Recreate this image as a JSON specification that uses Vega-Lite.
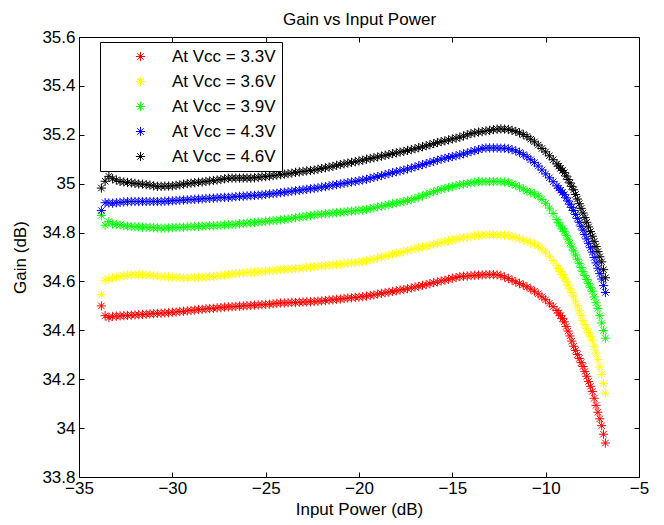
{
"$schema": "https://vega.github.io/schema/vega-lite/v6.json",
"width": 560, "height": 440,
"autosize": "none",
"padding": {"left": 79, "top": 37, "right": 25, "bottom": 48},
"background": "white",
"config": {
  "view": {"stroke": "black", "strokeWidth": 1},
  "axis": {"grid": false, "domainColor": "black", "tickColor": "black", "labelColor": "black", "titleColor": "black", "labelFont": "Liberation Sans", "titleFont": "Liberation Sans", "labelFontSize": 17, "titleFontSize": 17, "titleFontWeight": "normal", "tickSize": -5, "labelFlush": false, "labelOverlap": false}
},
"resolve": {"axis": {"x": "independent", "y": "independent"}},
"layer": [
{
"data": {"values": [
{"x":-33.8,"a":34.500,"b":34.546,"c":34.870,"d":34.890,"e":34.982},
{"x":-33.6,"a":34.460,"b":34.605,"c":34.830,"d":34.922,"e":35.010},
{"x":-33.4,"a":34.452,"b":34.610,"c":34.845,"d":34.921,"e":35.030},
{"x":-33.2,"a":34.457,"b":34.614,"c":34.835,"d":34.920,"e":35.020},
{"x":-33.0,"a":34.458,"b":34.617,"c":34.833,"d":34.922,"e":35.015},
{"x":-32.8,"a":34.459,"b":34.620,"c":34.831,"d":34.923,"e":35.009},
{"x":-32.6,"a":34.460,"b":34.623,"c":34.828,"d":34.925,"e":35.007},
{"x":-32.4,"a":34.461,"b":34.626,"c":34.826,"d":34.926,"e":35.005},
{"x":-32.2,"a":34.462,"b":34.627,"c":34.825,"d":34.927,"e":35.003},
{"x":-32.0,"a":34.463,"b":34.627,"c":34.824,"d":34.927,"e":35.001},
{"x":-31.8,"a":34.464,"b":34.627,"c":34.823,"d":34.927,"e":34.999},
{"x":-31.6,"a":34.465,"b":34.627,"c":34.822,"d":34.927,"e":34.998},
{"x":-31.4,"a":34.466,"b":34.627,"c":34.822,"d":34.927,"e":34.996},
{"x":-31.2,"a":34.467,"b":34.625,"c":34.821,"d":34.927,"e":34.994},
{"x":-31.0,"a":34.468,"b":34.623,"c":34.820,"d":34.927,"e":34.991},
{"x":-30.8,"a":34.469,"b":34.622,"c":34.819,"d":34.927,"e":34.989},
{"x":-30.6,"a":34.470,"b":34.620,"c":34.818,"d":34.927,"e":34.989},
{"x":-30.4,"a":34.471,"b":34.620,"c":34.818,"d":34.928,"e":34.990},
{"x":-30.2,"a":34.472,"b":34.619,"c":34.819,"d":34.929,"e":34.990},
{"x":-30.0,"a":34.474,"b":34.618,"c":34.820,"d":34.930,"e":34.991},
{"x":-29.8,"a":34.475,"b":34.617,"c":34.821,"d":34.931,"e":34.993},
{"x":-29.6,"a":34.477,"b":34.616,"c":34.821,"d":34.932,"e":34.995},
{"x":-29.4,"a":34.478,"b":34.615,"c":34.822,"d":34.933,"e":34.998},
{"x":-29.2,"a":34.480,"b":34.614,"c":34.823,"d":34.934,"e":35.000},
{"x":-29.0,"a":34.481,"b":34.615,"c":34.824,"d":34.935,"e":35.002},
{"x":-28.8,"a":34.483,"b":34.616,"c":34.825,"d":34.936,"e":35.004},
{"x":-28.6,"a":34.485,"b":34.617,"c":34.825,"d":34.937,"e":35.006},
{"x":-28.4,"a":34.486,"b":34.617,"c":34.826,"d":34.938,"e":35.007},
{"x":-28.2,"a":34.488,"b":34.618,"c":34.827,"d":34.939,"e":35.009},
{"x":-28.0,"a":34.489,"b":34.619,"c":34.828,"d":34.940,"e":35.011},
{"x":-27.8,"a":34.490,"b":34.620,"c":34.828,"d":34.941,"e":35.013},
{"x":-27.6,"a":34.492,"b":34.622,"c":34.829,"d":34.942,"e":35.015},
{"x":-27.4,"a":34.493,"b":34.624,"c":34.830,"d":34.943,"e":35.017},
{"x":-27.2,"a":34.495,"b":34.626,"c":34.831,"d":34.944,"e":35.020},
{"x":-27.0,"a":34.496,"b":34.628,"c":34.832,"d":34.944,"e":35.022},
{"x":-26.8,"a":34.497,"b":34.630,"c":34.833,"d":34.945,"e":35.023},
{"x":-26.6,"a":34.498,"b":34.632,"c":34.834,"d":34.947,"e":35.023},
{"x":-26.4,"a":34.499,"b":34.634,"c":34.836,"d":34.948,"e":35.023},
{"x":-26.2,"a":34.500,"b":34.635,"c":34.837,"d":34.949,"e":35.023},
{"x":-26.0,"a":34.501,"b":34.636,"c":34.839,"d":34.950,"e":35.023},
{"x":-25.8,"a":34.502,"b":34.637,"c":34.840,"d":34.951,"e":35.023},
{"x":-25.6,"a":34.503,"b":34.638,"c":34.841,"d":34.952,"e":35.024},
{"x":-25.4,"a":34.504,"b":34.639,"c":34.843,"d":34.953,"e":35.026},
{"x":-25.2,"a":34.505,"b":34.640,"c":34.844,"d":34.954,"e":35.028},
{"x":-25.0,"a":34.506,"b":34.642,"c":34.846,"d":34.956,"e":35.029},
{"x":-24.8,"a":34.507,"b":34.643,"c":34.847,"d":34.958,"e":35.031},
{"x":-24.6,"a":34.509,"b":34.645,"c":34.849,"d":34.959,"e":35.033},
{"x":-24.4,"a":34.510,"b":34.646,"c":34.850,"d":34.961,"e":35.035},
{"x":-24.2,"a":34.512,"b":34.648,"c":34.852,"d":34.963,"e":35.037},
{"x":-24.0,"a":34.512,"b":34.649,"c":34.854,"d":34.965,"e":35.039},
{"x":-23.8,"a":34.513,"b":34.650,"c":34.856,"d":34.967,"e":35.041},
{"x":-23.6,"a":34.514,"b":34.651,"c":34.858,"d":34.969,"e":35.043},
{"x":-23.4,"a":34.514,"b":34.653,"c":34.861,"d":34.971,"e":35.046},
{"x":-23.2,"a":34.515,"b":34.654,"c":34.863,"d":34.973,"e":35.048},
{"x":-23.0,"a":34.516,"b":34.655,"c":34.865,"d":34.975,"e":35.050},
{"x":-22.8,"a":34.516,"b":34.657,"c":34.867,"d":34.977,"e":35.052},
{"x":-22.6,"a":34.517,"b":34.658,"c":34.869,"d":34.979,"e":35.054},
{"x":-22.4,"a":34.518,"b":34.660,"c":34.872,"d":34.981,"e":35.056},
{"x":-22.2,"a":34.519,"b":34.662,"c":34.874,"d":34.983,"e":35.059},
{"x":-22.0,"a":34.520,"b":34.663,"c":34.875,"d":34.986,"e":35.062},
{"x":-21.8,"a":34.522,"b":34.665,"c":34.877,"d":34.988,"e":35.065},
{"x":-21.6,"a":34.524,"b":34.666,"c":34.878,"d":34.991,"e":35.068},
{"x":-21.4,"a":34.525,"b":34.668,"c":34.880,"d":34.994,"e":35.071},
{"x":-21.2,"a":34.527,"b":34.669,"c":34.881,"d":34.996,"e":35.075},
{"x":-21.0,"a":34.528,"b":34.671,"c":34.883,"d":34.999,"e":35.078},
{"x":-20.8,"a":34.530,"b":34.673,"c":34.884,"d":35.001,"e":35.081},
{"x":-20.6,"a":34.532,"b":34.674,"c":34.886,"d":35.004,"e":35.084},
{"x":-20.4,"a":34.533,"b":34.676,"c":34.888,"d":35.007,"e":35.087},
{"x":-20.2,"a":34.535,"b":34.677,"c":34.889,"d":35.009,"e":35.090},
{"x":-20.0,"a":34.536,"b":34.679,"c":34.891,"d":35.012,"e":35.093},
{"x":-19.8,"a":34.538,"b":34.681,"c":34.892,"d":35.015,"e":35.096},
{"x":-19.6,"a":34.540,"b":34.684,"c":34.895,"d":35.018,"e":35.100},
{"x":-19.4,"a":34.543,"b":34.688,"c":34.898,"d":35.022,"e":35.103},
{"x":-19.2,"a":34.545,"b":34.692,"c":34.901,"d":35.026,"e":35.106},
{"x":-19.0,"a":34.548,"b":34.695,"c":34.905,"d":35.029,"e":35.109},
{"x":-18.8,"a":34.551,"b":34.699,"c":34.908,"d":35.033,"e":35.113},
{"x":-18.6,"a":34.554,"b":34.703,"c":34.911,"d":35.037,"e":35.116},
{"x":-18.4,"a":34.556,"b":34.707,"c":34.914,"d":35.041,"e":35.119},
{"x":-18.2,"a":34.559,"b":34.711,"c":34.918,"d":35.045,"e":35.123},
{"x":-18.0,"a":34.562,"b":34.715,"c":34.921,"d":35.049,"e":35.126},
{"x":-17.8,"a":34.565,"b":34.718,"c":34.924,"d":35.052,"e":35.129},
{"x":-17.6,"a":34.567,"b":34.722,"c":34.927,"d":35.056,"e":35.132},
{"x":-17.4,"a":34.570,"b":34.726,"c":34.931,"d":35.060,"e":35.136},
{"x":-17.2,"a":34.573,"b":34.730,"c":34.934,"d":35.064,"e":35.139},
{"x":-17.0,"a":34.577,"b":34.734,"c":34.939,"d":35.069,"e":35.143},
{"x":-16.8,"a":34.580,"b":34.737,"c":34.945,"d":35.073,"e":35.147},
{"x":-16.6,"a":34.584,"b":34.741,"c":34.950,"d":35.078,"e":35.151},
{"x":-16.4,"a":34.587,"b":34.744,"c":34.956,"d":35.082,"e":35.155},
{"x":-16.2,"a":34.591,"b":34.748,"c":34.961,"d":35.087,"e":35.159},
{"x":-16.0,"a":34.595,"b":34.752,"c":34.967,"d":35.091,"e":35.164},
{"x":-15.8,"a":34.598,"b":34.755,"c":34.972,"d":35.096,"e":35.168},
{"x":-15.6,"a":34.602,"b":34.759,"c":34.977,"d":35.100,"e":35.172},
{"x":-15.4,"a":34.605,"b":34.762,"c":34.981,"d":35.104,"e":35.175},
{"x":-15.2,"a":34.609,"b":34.766,"c":34.985,"d":35.107,"e":35.179},
{"x":-15.0,"a":34.613,"b":34.770,"c":34.988,"d":35.111,"e":35.183},
{"x":-14.8,"a":34.616,"b":34.773,"c":34.992,"d":35.114,"e":35.186},
{"x":-14.6,"a":34.620,"b":34.777,"c":34.996,"d":35.118,"e":35.190},
{"x":-14.4,"a":34.621,"b":34.779,"c":34.998,"d":35.122,"e":35.195},
{"x":-14.2,"a":34.622,"b":34.781,"c":35.001,"d":35.126,"e":35.200},
{"x":-14.0,"a":34.624,"b":34.784,"c":35.003,"d":35.131,"e":35.205},
{"x":-13.8,"a":34.625,"b":34.786,"c":35.006,"d":35.135,"e":35.208},
{"x":-13.6,"a":34.626,"b":34.788,"c":35.008,"d":35.139,"e":35.211},
{"x":-13.4,"a":34.627,"b":34.790,"c":35.008,"d":35.144,"e":35.213},
{"x":-13.2,"a":34.628,"b":34.791,"c":35.008,"d":35.146,"e":35.216},
{"x":-13.0,"a":34.628,"b":34.791,"c":35.009,"d":35.146,"e":35.218},
{"x":-12.8,"a":34.628,"b":34.791,"c":35.009,"d":35.146,"e":35.221},
{"x":-12.6,"a":34.627,"b":34.790,"c":35.009,"d":35.146,"e":35.223},
{"x":-12.4,"a":34.624,"b":34.790,"c":35.008,"d":35.145,"e":35.224},
{"x":-12.2,"a":34.618,"b":34.789,"c":35.007,"d":35.145,"e":35.223},
{"x":-12.0,"a":34.612,"b":34.787,"c":35.005,"d":35.143,"e":35.222},
{"x":-11.8,"a":34.605,"b":34.783,"c":34.999,"d":35.139,"e":35.218},
{"x":-11.6,"a":34.598,"b":34.780,"c":34.993,"d":35.134,"e":35.214},
{"x":-11.4,"a":34.592,"b":34.775,"c":34.986,"d":35.128,"e":35.208},
{"x":-11.2,"a":34.585,"b":34.770,"c":34.978,"d":35.119,"e":35.201},
{"x":-11.0,"a":34.578,"b":34.765,"c":34.970,"d":35.110,"e":35.193},
{"x":-10.8,"a":34.569,"b":34.759,"c":34.964,"d":35.098,"e":35.182},
{"x":-10.6,"a":34.560,"b":34.753,"c":34.958,"d":35.086,"e":35.171},
{"x":-10.4,"a":34.549,"b":34.745,"c":34.950,"d":35.072,"e":35.158},
{"x":-10.2,"a":34.537,"b":34.733,"c":34.936,"d":35.056,"e":35.144},
{"x":-10.0,"a":34.525,"b":34.720,"c":34.920,"d":35.040,"e":35.130},
{"x":-9.8,"a":34.511,"b":34.703,"c":34.900,"d":35.024,"e":35.114},
{"x":-9.6,"a":34.497,"b":34.685,"c":34.878,"d":35.008,"e":35.098},
{"x":-9.4,"a":34.481,"b":34.664,"c":34.853,"d":34.991,"e":35.081},
{"x":-9.3,"a":34.471,"b":34.653,"c":34.840,"d":34.982,"e":35.072},
{"x":-9.2,"a":34.460,"b":34.641,"c":34.827,"d":34.973,"e":35.063},
{"x":-9.1,"a":34.448,"b":34.628,"c":34.815,"d":34.964,"e":35.054},
{"x":-9.0,"a":34.435,"b":34.615,"c":34.805,"d":34.955,"e":35.045},
{"x":-8.9,"a":34.416,"b":34.600,"c":34.789,"d":34.942,"e":35.031},
{"x":-8.8,"a":34.397,"b":34.585,"c":34.773,"d":34.929,"e":35.017},
{"x":-8.7,"a":34.377,"b":34.570,"c":34.757,"d":34.916,"e":35.003},
{"x":-8.6,"a":34.356,"b":34.555,"c":34.741,"d":34.903,"e":34.989},
{"x":-8.5,"a":34.335,"b":34.540,"c":34.725,"d":34.890,"e":34.975},
{"x":-8.4,"a":34.318,"b":34.520,"c":34.708,"d":34.874,"e":34.956},
{"x":-8.3,"a":34.301,"b":34.500,"c":34.691,"d":34.858,"e":34.937},
{"x":-8.2,"a":34.285,"b":34.480,"c":34.674,"d":34.842,"e":34.918},
{"x":-8.1,"a":34.268,"b":34.460,"c":34.657,"d":34.826,"e":34.899},
{"x":-8.0,"a":34.252,"b":34.440,"c":34.640,"d":34.810,"e":34.880},
{"x":-7.9,"a":34.232,"b":34.424,"c":34.624,"d":34.792,"e":34.861},
{"x":-7.8,"a":34.212,"b":34.408,"c":34.608,"d":34.774,"e":34.842},
{"x":-7.7,"a":34.191,"b":34.392,"c":34.592,"d":34.756,"e":34.823},
{"x":-7.6,"a":34.171,"b":34.376,"c":34.576,"d":34.738,"e":34.804},
{"x":-7.5,"a":34.150,"b":34.360,"c":34.560,"d":34.720,"e":34.785},
{"x":-7.4,"a":34.122,"b":34.333,"c":34.537,"d":34.698,"e":34.764},
{"x":-7.3,"a":34.093,"b":34.307,"c":34.513,"d":34.676,"e":34.743},
{"x":-7.2,"a":34.065,"b":34.280,"c":34.490,"d":34.654,"e":34.722},
{"x":-7.1,"a":34.038,"b":34.250,"c":34.460,"d":34.632,"e":34.701},
{"x":-7.0,"a":34.010,"b":34.220,"c":34.430,"d":34.610,"e":34.680},
{"x":-6.9,"a":33.975,"b":34.182,"c":34.399,"d":34.583,"e":34.648},
{"x":-6.8,"a":33.939,"b":34.143,"c":34.368,"d":34.555,"e":34.615}
]},
"transform": [{"fold": ["a","b","c","d","e"], "as": ["vcc","gain"]}],
"mark": {"type": "point", "shape": "M-1,0L1,0M0,-1L0,1M-0.7,-0.7L0.7,0.7M-0.7,0.7L0.7,-0.7", "filled": false, "size": 85, "strokeWidth": 1, "opacity": 1},
"encoding": {
  "x": {"field": "x", "type": "quantitative", "scale": {"domain": [-35, -5], "nice": false, "zero": false},
        "axis": {"title": "Input Power (dB)", "values": [-35,-30,-25,-20,-15,-10,-5], "labelPadding": 8, "titlePadding": 5}},
  "y": {"field": "gain", "type": "quantitative", "scale": {"domain": [33.8, 35.6], "nice": false, "zero": false},
        "axis": {"title": "Gain (dB)", "values": [33.8,34,34.2,34.4,34.6,34.8,35,35.2,35.4,35.6], "format": ".1~f", "labelPadding": 9, "titlePadding": 12}},
  "color": {"field": "vcc", "type": "nominal",
    "scale": {"domain": ["a","b","c","d","e"], "range": ["#ff0000","#ffff00","#00ff00","#0000ff","#000000"]},
    "legend": {"title": null, "orient": "none", "legendX": 21, "legendY": 5, "strokeColor": "black", "fillColor": "white", "padding": 6,
      "labelFont": "Liberation Sans", "labelFontSize": 17, "labelColor": "black",
      "symbolType": "M-1,0L1,0M0,-1L0,1M-0.7,-0.7L0.7,0.7M-0.7,0.7L0.7,-0.7", "symbolSize": 85, "symbolStrokeWidth": 1, "symbolFillColor": "transparent",
      "symbolOffset": 26, "labelOffset": 23, "rowPadding": 7,
      "labelExpr": "datum.value == 'a' ? 'At Vcc = 3.3V' : datum.value == 'b' ? 'At Vcc = 3.6V' : datum.value == 'c' ? 'At Vcc = 3.9V' : datum.value == 'd' ? 'At Vcc = 4.3V' : 'At Vcc = 4.6V'"}}
}
},
{
"data": {"values": [{"px": -35, "py": 33.8}]},
"mark": {"type": "point", "opacity": 0},
"encoding": {
  "x": {"field": "px", "type": "quantitative", "scale": {"domain": [-35, -5], "nice": false, "zero": false},
        "axis": {"orient": "top", "labels": false, "title": "Gain vs Input Power", "titlePadding": 9, "domain": false, "minExtent": 0, "maxExtent": 0, "values": [-35,-30,-25,-20,-15,-10,-5]}},
  "y": {"field": "py", "type": "quantitative", "scale": {"domain": [33.8, 35.6], "nice": false, "zero": false},
        "axis": {"orient": "right", "labels": false, "title": null, "domain": false, "minExtent": 0, "maxExtent": 0, "values": [33.8,34,34.2,34.4,34.6,34.8,35,35.2,35.4,35.6]}}
}
}
]
}
